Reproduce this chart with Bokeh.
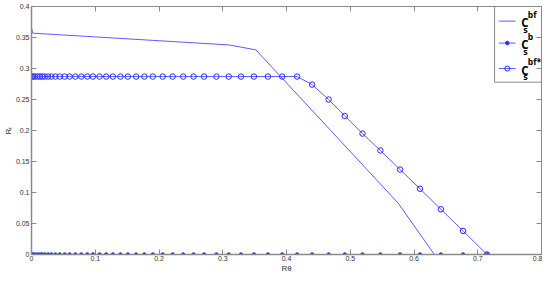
from bokeh.plotting import figure
from bokeh.models import Range1d, LinearAxis, FixedTicker, CustomJSTickFormatter, Label
from bokeh.embed import file_html
from bokeh.resources import INLINE

# ---- data ----
r_theta = [0.0, 0.0023, 0.0052, 0.0094, 0.0130, 0.0167, 0.0208, 0.0261, 0.0313, 0.0375,
           0.0442, 0.0520, 0.0598, 0.0688, 0.0781, 0.0875, 0.0964, 0.1067, 0.1172, 0.1277,
           0.1395, 0.1511, 0.1641, 0.1770, 0.1902, 0.2058, 0.2214, 0.2380, 0.2542, 0.2708,
           0.2901, 0.3094, 0.3286, 0.3489, 0.3708, 0.3933, 0.4167, 0.4402, 0.4661, 0.4914,
           0.5192, 0.5473, 0.5781, 0.6094, 0.6422, 0.6770, 0.7145]
cs_b = [0.0, 0.0, 0.0, 0.0, 0.0, 0.0, 0.0, 0.0, 0.0, 0.0,
        0.0, 0.0, 0.0, 0.0, 0.0, 0.0, 0.0, 0.0, 0.0, 0.0,
        0.0, 0.0, 0.0, 0.0, 0.0, 0.0, 0.0, 0.0, 0.0, 0.0,
        0.0, 0.0, 0.0, 0.0, 0.0, 0.0, 0.0, 0.0, 0.0, 0.0,
        0.0, 0.0, 0.0, 0.0, 0.0, 0.0, 0.0]
cs_bf_star = [0.287, 0.287, 0.287, 0.287, 0.287, 0.287, 0.287, 0.287, 0.287, 0.287,
              0.287, 0.287, 0.287, 0.287, 0.287, 0.287, 0.287, 0.287, 0.287, 0.287,
              0.287, 0.287, 0.287, 0.287, 0.287, 0.287, 0.287, 0.287, 0.287, 0.287,
              0.287, 0.287, 0.287, 0.287, 0.287, 0.287, 0.287, 0.274, 0.250, 0.2234,
              0.195, 0.1678, 0.137, 0.106, 0.073, 0.038, 0.0]
bf_x = [0.0, 0.002, 0.31, 0.352, 0.575, 0.632]
bf_y = [0.366, 0.357, 0.338, 0.330, 0.083, 0.0]

x_ticks = [0, 0.1, 0.2, 0.3, 0.4, 0.5, 0.6, 0.7, 0.8]
y_ticks = [0, 0.05, 0.1, 0.15, 0.2, 0.25, 0.3, 0.35, 0.4]
legend_sup = ["bf", "b", "bf*"]
x_title = "Rθ"
y_title = "Rₜ"

LINE = "#5c5cff"
MARK = "#2a2aff"
AXIS = "#8a8a8a"
TXT = "#333333"
FONT = "Liberation Sans"

p = figure(width=542, height=275, output_backend="svg", toolbar_location=None,
           x_range=Range1d(0, 0.8), y_range=Range1d(0, 0.4),
           min_border_left=28, min_border_right=1, min_border_top=6, min_border_bottom=18,
           background_fill_color="white", border_fill_color="white")
p.outline_line_color = None
p.grid.visible = False

fmt = CustomJSTickFormatter(code="return String(tick);")

def style_axis(ax, ticks, show_labels):
    ax.ticker = FixedTicker(ticks=ticks)
    ax.formatter = fmt
    ax.axis_line_color = AXIS
    ax.major_tick_line_color = AXIS
    ax.major_tick_in = 5
    ax.major_tick_out = 0
    ax.minor_tick_line_color = None
    ax.major_label_text_font = FONT
    if show_labels:
        ax.major_label_text_font_size = "7px"
        ax.major_label_text_color = TXT
    else:
        ax.major_label_text_font_size = "0px"
        ax.major_label_text_color = None
        ax.major_label_standoff = 0

style_axis(p.xaxis[0], x_ticks, True)
style_axis(p.yaxis[0], y_ticks, True)
p.xaxis[0].major_label_standoff = 1
p.yaxis[0].major_label_standoff = 2
p.xaxis[0].axis_line_width = 1.5
p.yaxis[0].axis_line_width = 1.5
for ax, t in ((p.xaxis[0], x_title), (p.yaxis[0], y_title)):
    ax.axis_label = t
    ax.axis_label_text_font = FONT
    ax.axis_label_text_font_size = "8px"
    ax.axis_label_text_font_style = "normal"
    ax.axis_label_text_color = TXT
    ax.axis_label_standoff = 0

top = LinearAxis()
style_axis(top, x_ticks, False)
p.add_layout(top, "above")
right = LinearAxis()
style_axis(right, y_ticks, False)
p.add_layout(right, "right")

# ---- series ----
p.line(bf_x, bf_y, line_color=LINE, line_width=1)
p.line(r_theta, cs_b, line_color=LINE, line_width=1)
p.scatter(r_theta, cs_b, marker="circle", size=3.5, fill_color=MARK, line_color=MARK)
p.line(r_theta, cs_bf_star, line_color=LINE, line_width=1)
p.scatter(r_theta, cs_bf_star, marker="circle", size=5.5, fill_color=None, line_color=MARK, line_width=1)

# ---- legend (drawn by hand to get sub/superscripts) ----
p.quad(left=0.7264, right=0.82, top=0.4, bottom=0.2779, fill_color="white",
       line_color=AXIS, line_width=1)
leg_y = [0.3764, 0.3410, 0.2999]
for i, ly in enumerate(leg_y):
    p.line([0.7331, 0.7593], [ly, ly], line_color=LINE, line_width=1)
    if i == 1:
        p.scatter([0.7463], [ly], marker="circle", size=3.5, fill_color=MARK, line_color=MARK)
    if i == 2:
        p.scatter([0.7463], [ly], marker="circle", size=5, fill_color=None, line_color=MARK)
    p.add_layout(Label(x=0.7682, y=ly - 0.0024, text="C", text_font="Open Sans",
                       text_font_style="bold", text_font_size="11.5px", text_color="black",
                       text_baseline="middle", text_align="left"))
    p.add_layout(Label(x=0.7714, y=ly - 0.0129, text="s", text_font="Open Sans",
                       text_font_style="bold", text_font_size="9px", text_color="black",
                       text_baseline="middle", text_align="left"))
    p.add_layout(Label(x=0.7786, y=ly + 0.0108, text=legend_sup[i], text_font="Open Sans",
                       text_font_style="bold", text_font_size="8.5px", text_color="black",
                       text_baseline="middle", text_align="left"))

open("out.html", "w").write(file_html(p, INLINE))
